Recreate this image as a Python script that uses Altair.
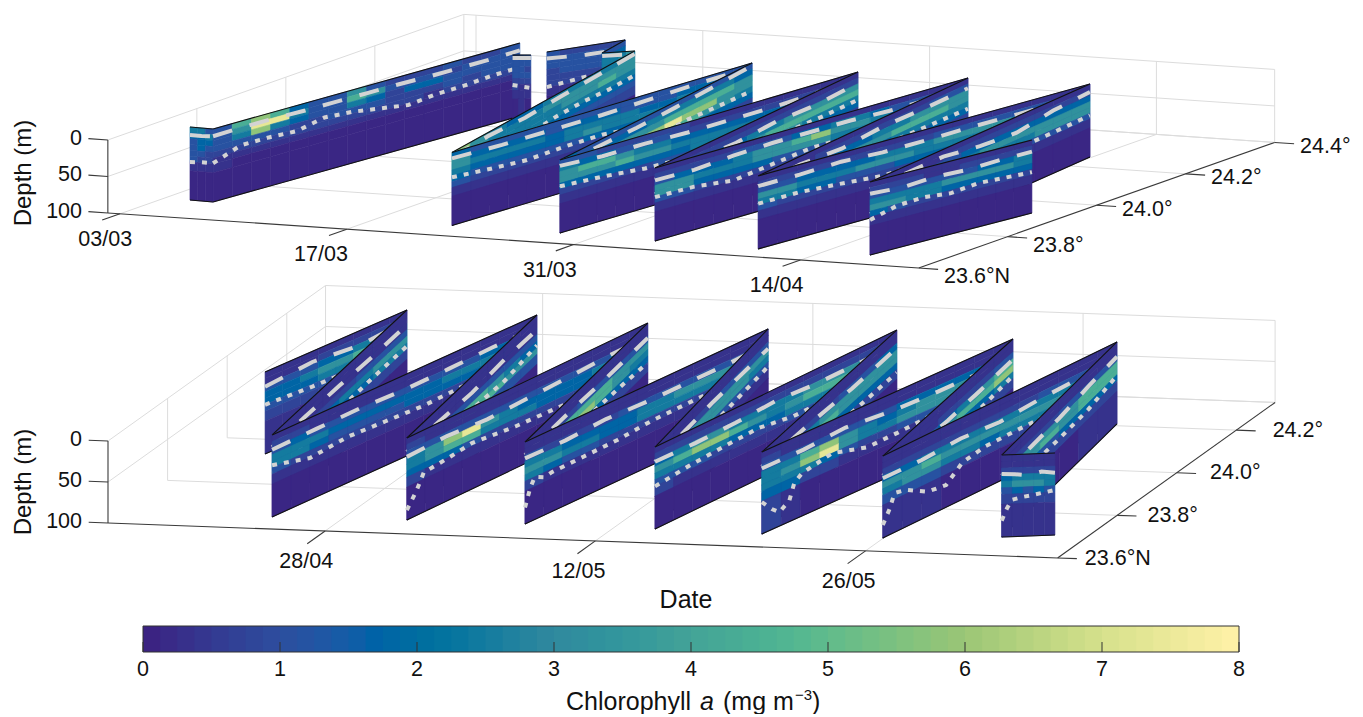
import altair as alt
import pandas as pd

alt.data_transformers.disable_max_rows()

# ---------- chlorophyll colour scale (mg m-3) ----------
CHL_STOPS = [0, 1, 1.6, 2, 3, 4, 4.8, 6, 7, 8]
CHL_COLORS = ["#3c2080", "#2d4e9e", "#0a5fa8", "#006d9f", "#30899e", "#44a397", "#55b890", "#9bc676", "#d6e18c", "#fff1a8"]
# letter code in the section tables -> chlorophyll value
CODE = {"0": 0.1, "1": 0.35, "2": 0.75, "3": 1.15, "4": 1.75, "5": 2.5, "6": 3.3, "7": 4.4, "8": 5.8, "9": 7.4}
DEPTH_EDGES = [0, 8, 16, 24, 32, 40, 48, 60, 100]

# ---------- top panel sections: west end, east end (days after 03/03, latitude) ----------
TOP_ENDS = [
    (1.60, 23.699, 3.08, 23.697), (3.08, 23.697, 6.36, 24.267), (7.75, 24.200, 8.69, 24.207),
    (9.07, 24.229, 11.35, 24.322), (12.07, 24.244, 11.35, 24.322), (12.07, 24.244, 13.48, 24.266),
    (18.90, 23.658, 13.48, 24.266), (18.90, 23.658, 21.30, 24.245), (25.59, 23.657, 21.30, 24.245),
    (25.59, 23.657, 28.11, 24.235), (31.68, 23.649, 28.11, 24.235), (31.68, 23.649, 34.68, 24.243),
    (38.19, 23.644, 34.68, 24.243), (38.19, 23.644, 41.88, 24.255), (44.87, 23.652, 41.88, 24.255),
    (44.87, 23.652, 47.09, 23.935),
]
TOP_CHL = [
    ["553", "445", "344", "343", "332", "322", "111", "000"],
    ["3787433632223223", "3699533763332333", "3585433542443333", "3333223332223233",
     "2222222222212222", "1111111111111111", "1000000000000000", "0000000000000000"],
    ["333", "333", "332", "333", "222", "211", "111", "010"],
    ["322222", "333333", "333333", "233333", "222222", "222111", "111000", "000000"],
    ["33", "44", "44", "44", "33", "22", "11", "00"],
    ["4556", "5566", "5566", "5655", "3443", "2222", "1111", "0000"],
    ["8654455555", "7655566666", "6655556676", "5545555555", "3334444444", "2222223333", "1111111222", "0000000000"],
    ["4333333333333333", "6444434443334444", "6555545555445555", "5444445655556666",
     "4333333444455566", "3222222222233444", "1111111111112222", "0000000000000000"],
    ["43333333333", "55444555554", "66666677776", "66667898866", "44455677665", "33333444444", "11122222222", "00000000000"],
    ["3322222111111111", "5443332222222222", "6776554444444433", "6667665555555555",
     "4444444555555566", "2222233333444455", "1111111111112222", "0000000000000000"],
    ["11111111111", "22222222222", "33444556666", "44556677777", "44445566555", "22233333444", "11111111222", "00000000000"],
    ["1111111111111111", "2222333445543322", "3444566786654433", "6655566665555555",
     "6644443333344455", "3322222222223333", "1111111111111122", "0000000000000000"],
    ["11111111111", "11122222233", "22334455666", "33445667776", "33334445555", "22222223344", "11111111112", "00000000000"],
    ["11111111111111111", "22222222233333322", "33444455566665543", "66555666555544444",
     "55443334443333222", "32222222222222222", "11111111111111111", "00000000000000000"],
    ["111111111111", "111122222222", "222334444444", "334455666666", "333444555666", "222222233333", "111111111111", "000000000000"],
    ["111111111", "222112222", "333333445", "555566665", "665544444", "432222222", "111111111", "000000000"],
]
TOP_DASH = [
    [11, 11, 10], [10, 9, 9, 10, 10, 10, 10, 11, 11, 11, 10], [4, 4], [9, 12, 12], [], [4, 4],
    [7, 5, 8, 6, 5, 4], [8, 10, 10, 10, 8, 6, 6], [8, 8, 9, 8, 6, 4], [8, 12, 12, 14, 14, 14, 12, 12],
    [16, 17, 18, 15, 18, 15], [17, 18, 14, 12, 12, 12, 14, 14, 14], [14, 11, 16, 12, 14, 14],
    [14, 14, 12, 15, 15, 14, 14, 14, 12], [10, 10, 10, 18, 22, 14, 11], [16, 19, 16, 18, 16, 16],
]
TOP_DOT = [
    [48, 47, 47], [47, 33, 33, 35, 27, 30, 36, 42, 38, 37, 34, 33], [41, 45], [48, 42, 40], [], [38, 40],
    [40, 38, 36, 33, 30, 30, 33, 33], [34, 38, 41, 38, 37, 42, 42, 42, 42], [38, 38, 36, 34, 33, 36, 38],
    [36, 40, 46, 48, 45, 45, 45, 45], [36, 36, 36, 36, 36, 38, 38], [40, 41, 48, 41, 34, 34, 36, 36, 36],
    [40, 40, 40, 38, 40, 42], [38, 38, 42, 47, 45, 45, 45, 45, 45], [44, 44, 44, 44, 44, 43], [52, 42, 40, 44, 40, 42, 44],
]

# ---------- bottom panel sections: (days after 17/04, latitude) ----------
BOT_ENDS = [
    (2.98, 23.934, 5.70, 24.234), (7.67, 23.654, 5.70, 24.234), (7.67, 23.654, 12.45, 24.233),
    (14.52, 23.6625, 12.45, 24.233), (14.52, 23.6625, 18.47, 24.215), (20.62, 23.664, 18.47, 24.215),
    (20.62, 23.664, 24.80, 24.209), (27.37, 23.663, 24.80, 24.209), (27.37, 23.663, 31.22, 24.225),
    (32.98, 23.658, 31.22, 24.225), (32.98, 23.658, 37.56, 24.204), (39.22, 23.660, 37.56, 24.204),
    (39.22, 23.660, 42.89, 24.208), (45.01, 23.684, 42.89, 24.208), (45.01, 23.684, 47.49, 23.702),
]
BOT_CHL = [
    ["11111111", "11122222", "33344555", "44566766", "44455555", "33333333", "22222111", "11000000"],
    ["11111111", "11111111", "11111111", "22222333", "33445566", "33344455", "11222222", "00000000"],
    ["11111111111111", "22111111111111", "34333333333444", "55544444455555", "55433334444444", "32222222222222", "11111111111111", "00000000000000"],
    ["11111111", "11111111", "11111111", "22333333", "55677654", "55677766", "22222333", "00000000"],
    ["1111111111111", "2111111111111", "3333333333344", "5689654444555", "5677555444455", "4443222222222", "2111111111111", "0000000000000"],
    ["1111111", "1111111", "2223333", "5677766", "6788765", "3344444", "1122222", "0000000"],
    ["1111111111111", "1111111111111", "3222233333333", "5544445566655", "6655445555544", "5433222222222", "2111111111111", "0000000000000"],
    ["111111", "111111", "222333", "556666", "566665", "333333", "111111", "000000"],
    ["1111111111111", "2222222222222", "4566555566655", "6788765677765", "5555444555544", "3332222333333", "2111111111111", "0000000000000"],
    ["1111111", "1111111", "2222334", "4556666", "6667666", "3344444", "1122222", "0000000"],
    ["1111111111111", "2111111111111", "3333333444444", "5578654566665", "5689655666654", "5554322333333", "4422111111111", "2100000000000"],
    ["1111111", "1111111", "1112223", "2334567", "4556778", "3444445", "1222222", "0000000"],
    ["111111111111", "111111111111", "222222223333", "445555555555", "667666666655", "566554555544", "333222222222", "111000000000"],
    ["111111", "111111", "222333", "566677", "567677", "443444", "222222", "100011"],
    ["11111", "11111", "22222", "45555", "56665", "34343", "22222", "11111"],
]
BOT_DASH = [
    [18, 13, 18, 13], [15, 15, 16, 18, 18], [18, 17, 16, 18, 17, 15, 15], [17, 17, 20, 17, 18],
    [23, 21, 24, 22, 20, 17, 17], [16, 16, 18, 18], [20, 21, 18, 20, 20, 20, 18], [18, 19, 24],
    [18, 19, 18, 15, 18, 18, 17], [18, 18, 22, 22], [20, 20, 16, 21, 23, 23, 23], [24, 26, 28, 27, 25],
    [27, 28, 25, 28, 24, 22, 22], [25, 25, 24, 20, 18], [23, 24, 26, 22, 24],
]
BOT_DOT = [
    [40, 43, 44, 44], [48, 47, 45, 44, 44], [37, 49, 44, 46, 48, 46, 46, 46], [42, 42, 40, 43, 37],
    [(0, 88), (.04, 70), (.07, 52), (.18, 48), (.27, 44), (.45, 49), (.66, 51), (.8, 50), (1, 48)],
    [43, 43, 43, 45, 48],
    [(0, 80), (.02, 60), (.04, 48), (.08, 54), (.11, 52), (.24, 51), (.38, 50), (.52, 46), (.7, 45), (1, 44)],
    [46, 46, 46, 46], [48, 43, 40, 38, 44, 44, 44, 44], [50, 51, 51, 52],
    [(0, 61), (.04, 75), (.07, 83), (.11, 74), (.13, 55), (.16, 48), (.28, 40), (.42, 52), (.54, 51), (.7, 48), (1, 48)],
    [48, 49, 49, 49, 45],
    [(0, 84), (.03, 68), (.05, 52), (.1, 55), (.19, 70), (.27, 73), (.34, 55), (.44, 49), (.6, 48), (1, 48)],
    [48, 48, 49, 48, 41],
    [(0, 80), (.1, 65), (.19, 55), (.4, 52), (.6, 50), (1, 45)],
]

# ---------- axes ----------
TOP_DATES = ["03/03", "17/03", "31/03", "14/04"]
TOP_DATE_DAYS = [0, 14, 28, 42]
TOP_LATS = ["23.6°N", "23.8°", "24.0°", "24.2°", "24.4°"]
TOP_LAT_VALUES = [23.6, 23.8, 24.0, 24.2, 24.4]
BOT_DATES = ["28/04", "12/05", "26/05"]
BOT_DATE_DAYS = [11.25, 25.25, 39.25]
BOT_LATS = ["23.6°N", "23.8°", "24.0°", "24.2°"]
BOT_LAT_VALUES = [23.6, 23.8, 24.0, 24.2]
DEPTHS = [0, 50, 100]
BAR_TICKS = [0, 1, 2, 3, 4, 5, 6, 7, 8]


class View:
    def __init__(s, x0, y0, xd, xl, yd, yl, yz, d0, d1, lat1):
        s.x0, s.y0, s.xd, s.xl, s.yd, s.yl, s.yz = x0, y0, xd, xl, yd, yl, yz
        s.d0, s.d1, s.lat1 = d0, d1, lat1

    def p(s, day, lat, z):
        L = lat - 23.6
        return s.x0 + s.xd * day + s.xl * L, s.y0 + s.yd * day + s.yl * L + s.yz * z


TOP = View(120, 140.8, 16.2, 445, 1.1, -157, 0.73, -0.75, 49.3, 24.4)
BOT = View(108, 441, 19.3, 298, 0.71, -213, 0.82, 0, 49.2, 24.33)

X = alt.Scale(domain=[8, 1355], zero=False, nice=False)
Y = alt.Scale(domain=[714, 8], zero=False, nice=False)
C = alt.Scale(domain=CHL_STOPS, range=CHL_COLORS)


def ex():
    return alt.X("x:Q", scale=X, axis=None)


def ey():
    return alt.Y("y:Q", scale=Y, axis=None)


layers = []


def seg_rows(view, segs):
    rows = []
    for a, b in segs:
        xa, ya = view.p(*a)
        xb, yb = view.p(*b)
        rows.append(dict(x=xa, y=ya, x2=xb, y2=yb))
    return rows


def frame(view, days, lats, tick_d, tick_l, depth_tick):
    d0, d1, l1 = view.d0, view.d1, view.lat1
    grid = []
    for d in days:
        grid += [((d, 23.6, 100), (d, l1, 100)), ((d, l1, 0), (d, l1, 100))]
    for l in lats[1:] + ([l1] if l1 not in lats else []):
        grid += [((d0, l, 100), (d1, l, 100)), ((d0, l, 0), (d0, l, 100))]
    for z in DEPTHS[:2]:
        grid += [((d0, 23.6, z), (d0, l1, z)), ((d0, l1, z), (d1, l1, z))]
    grid += [((d1, l1, 0), (d1, l1, 100)), ((d1, l1, 100), (d0, l1, 100))]
    ax = [((d0, 23.6, 0), (d0, 23.6, 100)), ((d0, 23.6, 100), (d1, 23.6, 100)), ((d1, 23.6, 100), (d1, l1, 100))]
    for z in DEPTHS:
        ax.append(((d0 - depth_tick, 23.6, z), (d0, 23.6, z)))
    for d in days:
        ax.append(((d, 23.6 - tick_l, 100), (d, 23.6, 100)))
    for l in lats:
        ax.append(((d1, l, 100), (d1 + tick_d, l, 100)))
    return seg_rows(view, grid), seg_rows(view, ax)


g1, a1 = frame(TOP, TOP_DATE_DAYS, TOP_LAT_VALUES, 1.2, 0.04, 1.2)
g2, a2 = frame(BOT, BOT_DATE_DAYS, BOT_LAT_VALUES, 1.0, 0.06, 1.0)
for rows, col, w in [(g1 + g2, "#dcdcdc", 1), (a1 + a2, "#3a3a3a", 1.1)]:
    layers.append(alt.Chart(pd.DataFrame(rows)).mark_rule(color=col, strokeWidth=w).encode(
        x=ex(), y=ey(), x2="x2:Q", y2="y2:Q"))


def sections(view, ends, chl, dash, dot, tag):
    for i, (dw, lw, de, le) in enumerate(ends):
        def at(f, z):
            return view.p(dw + (de - dw) * f, lw + (le - lw) * f, z)
        n = len(chl[i][0])
        cells = []
        for r, row in enumerate(chl[i]):
            for j, ch in enumerate(row):
                for f in (j / n, (j + 1) / n):
                    x, y = at(f, DEPTH_EDGES[r])
                    _, y2 = at(f, DEPTH_EDGES[r + 1])
                    cells.append(dict(x=x, y=y, y2=y2, chl=CODE[ch], cell=f"{tag}{i}r{r}c{j}"))
        layers.append(alt.Chart(pd.DataFrame(cells)).mark_area(orient="vertical", strokeWidth=0.6).encode(
            x=ex(), y=ey(), y2="y2:Q",
            color=alt.Color("chl:Q", scale=C, legend=None),
            stroke=alt.Stroke("chl:Q", scale=C, legend=None),
            detail="cell:N"))

        edges = []
        for k, z in (("s", 0), ("b", 100)):
            for f in (0, 1):
                x, y = at(f, z)
                edges.append(dict(x=x, y=y, k=k))
        layers.append(alt.Chart(pd.DataFrame(edges)).mark_line(color="#111111", strokeWidth=1.1).encode(
            x=ex(), y=ey(), detail="k:N"))

        def path(vals):
            rows = []
            for q, v in enumerate(vals):
                f, z = v if isinstance(v, tuple) else (q / max(len(vals) - 1, 1), v)
                x, y = at(f, z)
                rows.append(dict(x=x, y=y, q=q))
            return pd.DataFrame(rows)

        if dash[i]:
            layers.append(alt.Chart(path(dash[i])).mark_line(color="#d3d3d3", strokeWidth=4, strokeDash=[20, 18]).encode(
                x=ex(), y=ey(), order="q:Q"))
        if dot[i]:
            layers.append(alt.Chart(path(dot[i])).mark_line(color="#d3d3d3", strokeWidth=4, strokeDash=[5, 7]).encode(
                x=ex(), y=ey(), order="q:Q"))


sections(TOP, TOP_ENDS, TOP_CHL, TOP_DASH, TOP_DOT, "t")
sections(BOT, BOT_ENDS, BOT_CHL, BOT_DASH, BOT_DOT, "b")

# ---------- colour bar ----------
BAR_X0, BAR_PER_UNIT, BAR_TOP, BAR_BOTTOM = 143, 137, 626, 652


def bar_x(v):
    return BAR_X0 + BAR_PER_UNIT * v


levels = [i / 8 for i in range(64)]
layers.append(alt.Chart(pd.DataFrame([
    dict(x=bar_x(v), x2=min(bar_x(v + 1 / 8) + 1, bar_x(8)), y=BAR_TOP, y2=BAR_BOTTOM, chl=v + 1 / 16) for v in levels
])).mark_rect().encode(x=ex(), x2="x2:Q", y=ey(), y2="y2:Q", color=alt.Color("chl:Q", scale=C, legend=None)))
box = [dict(x=bar_x(0), x2=bar_x(8), y=BAR_TOP, y2=BAR_TOP), dict(x=bar_x(0), x2=bar_x(8), y=BAR_BOTTOM, y2=BAR_BOTTOM),
       dict(x=bar_x(0), x2=bar_x(0), y=BAR_TOP, y2=BAR_BOTTOM), dict(x=bar_x(8), x2=bar_x(8), y=BAR_TOP, y2=BAR_BOTTOM)]
box += [dict(x=bar_x(v), x2=bar_x(v), y=BAR_BOTTOM - 10, y2=BAR_BOTTOM) for v in BAR_TICKS]
layers.append(alt.Chart(pd.DataFrame(box)).mark_rule(color="#333333", strokeWidth=1).encode(
    x=ex(), y=ey(), x2="x2:Q", y2="y2:Q"))

# ---------- texts ----------
labels = []
for d, t, ox in zip(TOP_DATE_DAYS, TOP_DATES, [9, -2, 0, 0]):
    x, y = TOP.p(d, 23.56, 100)
    labels.append(dict(x=x - 6 + ox, y=y + 20, t=t, a="center"))
for d, t, ox in zip(BOT_DATE_DAYS, BOT_DATES, [0, 2, 2]):
    x, y = BOT.p(d, 23.54, 100)
    labels.append(dict(x=x - 1 + ox, y=y + 18, t=t, a="center"))
for l, t in zip(TOP_LAT_VALUES, TOP_LATS):
    x, y = TOP.p(TOP.d1 + 1.2, l, 100)
    labels.append(dict(x=x + 6, y=y + 8 - 5 * (l > 23.9), t=t, a="left"))
for l, t in zip(BOT_LAT_VALUES, BOT_LATS):
    x, y = BOT.p(BOT.d1 + 1.0, l, 100)
    labels.append(dict(x=x + 8 + 15 * (l - 23.6), y=y, t=t, a="left"))
for v, z in [(TOP, z) for z in DEPTHS] + [(BOT, z) for z in DEPTHS]:
    x, y = v.p(v.d0, 23.6, z)
    labels.append(dict(x=82, y=y - 1, t=str(z), a="right"))
for v in BAR_TICKS:
    labels.append(dict(x=bar_x(v), y=670, t=str(v), a="center"))
ldf = pd.DataFrame(labels)
for a in ("left", "center", "right"):
    layers.append(alt.Chart(ldf[ldf.a == a]).mark_text(font="Liberation Sans", fontSize=21.5, align=a, baseline="middle", color="#111111").encode(
        x=ex(), y=ey(), text="t:N"))


def text(x, y, t, size=24, **kw):
    kw.setdefault("align", "center")
    layers.append(alt.Chart(pd.DataFrame([dict(x=x, y=y, t=t)])).mark_text(
        font="Liberation Sans", fontSize=size, baseline="middle", color="#111111", **kw).encode(x=ex(), y=ey(), text="t:N"))


text(24, 173, "Depth (m)", angle=270)
text(24, 482, "Depth (m)", angle=270)
text(686, 600, "Date", size=25)
text(566, 702, "Chlorophyll", size=25, align="left")
text(700, 702, "a", size=25, align="left", fontStyle="italic")
text(723, 702, "(mg m", size=25, align="left")
text(795, 695, "−3", size=15, align="left")
text(812, 702, ")", size=25, align="left")

chart = alt.layer(*layers).properties(
    width=1347, height=706, padding=0, autosize=alt.AutoSizeParams(type="none")
).configure_view(stroke=None)

chart.save("out.html", embed_options={"renderer": "svg", "actions": False})
